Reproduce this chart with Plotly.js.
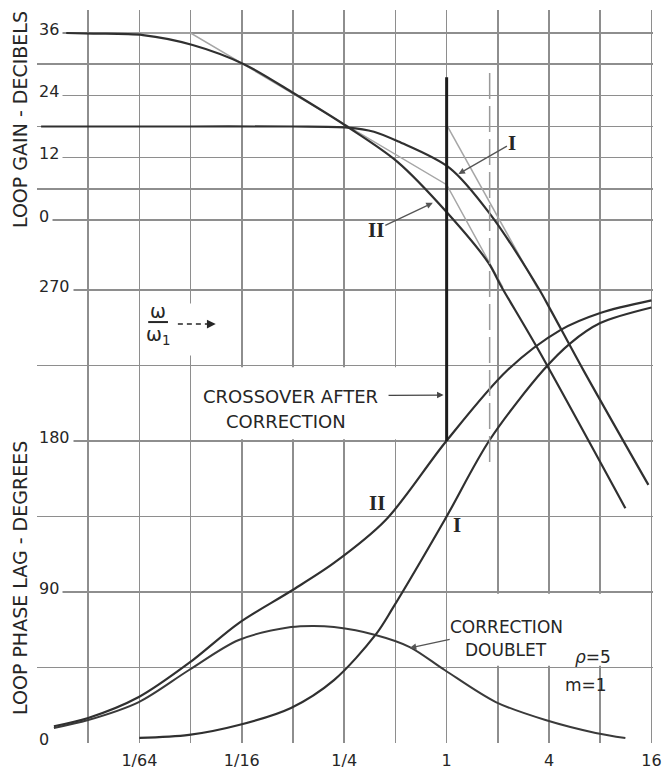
<!DOCTYPE html>
<html>
<head>
<meta charset="utf-8">
<script src="https://cdn.plot.ly/plotly-3.0.1.min.js"></script>
<style>
  html, body { margin: 0; padding: 0; background: #fff; }
  #chart { width: 664px; height: 772px; }
</style>
</head>
<body>
<div id="chart"></div>
<script>
// ---- frequency axis (ω/ω1), one grid line per octave ----
const freqTicks     = [1/128, 1/64, 1/32, 1/16, 1/8, 1/4, 1/2, 1, 2, 4, 8, 16];
const freqTickText  = ['', '1/64', '', '1/16', '', '1/4', '', '1', '', '4', '', '16'];

// ---- gain scale (dB) and phase scale (degrees) ----
const gainTicks     = [0, 6, 12, 18, 24, 30, 36];
const gainTickText  = ['0', '', '12', '', '24', '', '36'];
const phaseTicks    = [0, 45, 90, 135, 180, 225, 270];
const phaseTickText = ['0', '', '90', '', '180', '', '270'];

// ---- loop gain, curve II ----
const gainIIFreq = [0.0058, 0.00837, 0.0164, 0.0321, 0.0643, 0.1276, 0.2624, 0.514, 1.014, 1.765, 2.071, 3.434, 11.24];
const gainIIdB   = [36.0, 35.9, 35.6, 33.7, 30.0, 24.3, 17.9, 11.2, 1.3, -8.3, -12.5, -24.8, -55.5];

// ---- loop gain, curve I ----
const gainIFreq = [0.00413, 0.03125, 0.125, 0.2624, 0.3737, 0.521, 1.043, 1.815, 3.434, 4.084, 6.364, 15.35];
const gainIdB   = [18.0, 18.0, 18.0, 17.8, 17.0, 15.1, 10.0, 1.0, -12.9, -17.3, -28.9, -51.0];

// ---- straight-line asymptotes of the gain curves ----
const asymIIFreq = [0.0058, 0.03125, 1, 2.144];
const asymIIdB   = [36, 36, 6.8, -13.0];
const asymIFreq  = [1, 3.482];
const asymIdB    = [18.3, -13.6];

// ---- loop phase lag, curve II ----
const phaseIIFreq = [0.00491, 0.00781, 0.0155, 0.0306, 0.0600, 0.1216, 0.2176, 0.4383, 0.986, 2.282, 4.659, 8, 16];
const phaseIIDeg  = [10, 14.9, 27.4, 47.7, 71.5, 90.6, 107.3, 132.9, 179.4, 222.3, 246.1, 256.3, 263.8];

// ---- loop phase lag, curve I ----
const phaseIFreq = [0.0156, 0.0306, 0.0600, 0.1216, 0.2176, 0.3815, 0.4830, 0.973, 1.790, 3.706, 5.352, 8, 16];
const phaseIDeg  = [3.0, 4.8, 10.7, 20.9, 37.5, 64.4, 80.5, 132.9, 180.6, 222.3, 238.4, 250.3, 259.6];

// ---- phase of the correction doublet ----
const doubletFreq = [0.00491, 0.00781, 0.0155, 0.0306, 0.0600, 0.1216, 0.165, 0.2176, 0.3815, 0.607, 0.973, 1.945, 3.811, 7.516, 11.24];
const doubletDeg  = [9, 13.7, 24.4, 43.5, 61.4, 69.1, 69.8, 69.1, 64.4, 57.2, 43.5, 24.4, 13.7, 6.0, 3.0];

// ---- crossover markers ----
const crossAfterFreq = 1;      // crossover after correction
const crossAfterTopdB = 27.5;
const crossAfterPhase = 180;
const crossBeforeFreq = 1.79;  // crossover of curve I
const crossBeforeTopdB = 28.3;
const crossBeforePhase = 167;

// ---------------------------------------------------------------
const LOG2 = Math.log10(2);
const xRange = [-8 * LOG2, 4.03 * LOG2];
const phaseRange = [0, 436.9];
const gainRange = [-100.69, 40.43];

// both scales share the same plot height; convert a phase value to the gain scale
function phaseOnGainScale(p) {
  const f = (p - phaseRange[0]) / (phaseRange[1] - phaseRange[0]);
  return gainRange[0] + f * (gainRange[1] - gainRange[0]);
}
const lx = v => Math.log10(v);
// fraction of the plot width at which a frequency sits
const px = v => (lx(v) - xRange[0]) / (xRange[1] - xRange[0]);

const ink = '#262626';
const curveLine = { color: '#303030', width: 2.2, shape: 'spline', smoothing: 0.9 };
const ghostLine = { color: '#a6a6a6', width: 1.5 };
const gridColor = '#8e8e8e';
const letterFont = 'DejaVu Sans, Liberation Sans, sans-serif';
const romanFont = 'Liberation Serif, DejaVu Serif, serif';

function line(x, y, yaxis, style) {
  return { type: 'scatter', mode: 'lines', x: x, y: y, yaxis: yaxis, line: style, hoverinfo: 'skip' };
}

const traces = [
  line(asymIIFreq, asymIIdB, 'y2', ghostLine),
  line(asymIFreq, asymIdB, 'y2', ghostLine),
  line(gainIIFreq, gainIIdB, 'y2', curveLine),
  line(gainIFreq, gainIdB, 'y2', curveLine),
  line(doubletFreq, doubletDeg, 'y', Object.assign({}, curveLine, { color: '#3a3a3a', width: 2 })),
  line(phaseIIFreq, phaseIIDeg, 'y', curveLine),
  line(phaseIFreq, phaseIDeg, 'y', curveLine),
  line([crossAfterFreq, crossAfterFreq],
       [crossAfterTopdB, phaseOnGainScale(crossAfterPhase)], 'y2',
       { color: '#1c1c1c', width: 3 }),
  line([crossBeforeFreq, crossBeforeFreq],
       [crossBeforeTopdB, phaseOnGainScale(crossBeforePhase)], 'y2',
       { color: '#9a9a9a', width: 1.5, dash: '26px,7px' })
];

// white panels that clear the grid behind the lettering
function panel(x0, x1, y0, y1) {
  return { type: 'rect', layer: 'above', xref: 'paper', yref: 'y',
           x0: px(x0), x1: px(x1), y0: y0, y1: y1,
           fillcolor: '#ffffff', line: { width: 0 } };
}
const shapes = [
  panel(0.0319, 0.966, 181, 224),
  panel(0.0234, 0.045, 231, 262),
  panel(1.028, 15.56, 46, 89),
  // fraction bar of ω/ω1
  { type: 'line', layer: 'above', xref: 'paper', yref: 'y', x0: px(0.0176), x1: px(0.0230), y0: 250.9, y1: 250.9,
    line: { color: ink, width: 2 } },
  // dashed lead of the ω/ω1 arrow
  { type: 'line', layer: 'above', xref: 'paper', yref: 'y', x0: px(0.0263), x1: px(0.0395), y0: 249.7, y1: 249.7,
    line: { color: ink, width: 1.5, dash: '5px,4px' } }
];

const annotations = [];

// scale numbers, lettered just inside the left edge
function scaleLabels(vals, texts, yref) {
  vals.forEach((v, i) => {
    if (!texts[i]) return;
    annotations.push({
      xref: 'paper', yref: yref, x: 0, y: v, xanchor: 'left', yanchor: 'middle',
      xshift: -2, yshift: 4, showarrow: false, text: texts[i],
      bgcolor: '#ffffff', borderpad: 3,
      font: { family: letterFont, size: 16, color: ink }
    });
  });
}
scaleLabels(gainTicks, gainTickText, 'y2');
scaleLabels(phaseTicks, phaseTickText, 'y');

// axis titles
annotations.push({
  xref: 'paper', yref: 'y2', x: 0, y: 19.25, xanchor: 'center', yanchor: 'middle', xshift: -17,
  textangle: -90, showarrow: false,
  text: 'LOOP GAIN - DECIBELS', font: { family: letterFont, size: 19, color: ink }
});
annotations.push({
  xref: 'paper', yref: 'y', x: 0, y: 98.4, xanchor: 'center', yanchor: 'middle', xshift: -17,
  textangle: -90, showarrow: false,
  text: 'LOOP PHASE LAG - DEGREES', font: { family: letterFont, size: 19, color: ink }
});

// ω/ω1
annotations.push({ xref: 'x', yref: 'y', x: lx(0.0201), y: 257.5, showarrow: false, text: 'ω',
  font: { family: letterFont, size: 19, color: ink } });
annotations.push({ xref: 'x', yref: 'y', x: lx(0.0201), y: 243.1, showarrow: false, text: 'ω<sub>1</sub>',
  font: { family: letterFont, size: 19, color: ink } });
annotations.push({ xref: 'x', yref: 'y', x: lx(0.0439), y: 249.7, ax: -10, ay: 0, text: '',
  showarrow: true, arrowhead: 2, arrowsize: 1.1, arrowwidth: 1.6, arrowcolor: ink });

// curve labels on the gain plot
annotations.push({ xref: 'x', yref: 'y2', x: lx(1.173), y: 8.85, ax: 54, ay: -31, text: '<b>I</b>',
  showarrow: true, arrowhead: 2, arrowsize: 1, arrowwidth: 1.3, arrowcolor: '#555',
  font: { family: romanFont, size: 21, color: ink } });
annotations.push({ xref: 'x', yref: 'y2', x: lx(0.829), y: 3.3, ax: -57, ay: 27, text: '<b>II</b>',
  showarrow: true, arrowhead: 2, arrowsize: 1, arrowwidth: 1.3, arrowcolor: '#555',
  font: { family: romanFont, size: 21, color: ink } });

// curve labels on the phase plot
annotations.push({ xref: 'x', yref: 'y', x: lx(0.392), y: 143, showarrow: false, text: '<b>II</b>',
  font: { family: romanFont, size: 21, color: ink } });
annotations.push({ xref: 'x', yref: 'y', x: lx(1.157), y: 129.9, showarrow: false, text: '<b>I</b>',
  font: { family: romanFont, size: 21, color: ink } });

// crossover note: first line carries the pointer to the crossover line
annotations.push({ xref: 'x', yref: 'y', x: lx(0.959), y: 207.4, ax: -153, ay: 1,
  showarrow: true, arrowhead: 2, arrowsize: 1, arrowwidth: 1.3, arrowcolor: '#444', startstandoff: 9,
  text: 'CROSSOVER AFTER', font: { family: letterFont, size: 18, color: ink } });
annotations.push({ xref: 'x', yref: 'y', x: lx(0.113), y: 191.8, showarrow: false,
  text: 'CORRECTION', font: { family: letterFont, size: 18, color: ink } });

// correction doublet note: first line carries the pointer to the doublet curve
annotations.push({ xref: 'x', yref: 'y', x: lx(0.607), y: 56.6, ax: 97, ay: -21,
  showarrow: true, arrowhead: 2, arrowsize: 1, arrowwidth: 1.3, arrowcolor: '#555', startstandoff: 4,
  text: 'CORRECTION', font: { family: letterFont, size: 17, color: ink } });
annotations.push({ xref: 'x', yref: 'y', x: lx(2.22), y: 55.7, showarrow: false,
  text: 'DOUBLET', font: { family: letterFont, size: 17, color: ink } });
annotations.push({ xref: 'x', yref: 'y', x: lx(7.21), y: 51.3, showarrow: false,
  text: '<i>ρ</i>=5', font: { family: letterFont, size: 17, color: ink } });
annotations.push({ xref: 'x', yref: 'y', x: lx(6.63), y: 34.6, showarrow: false,
  text: 'm=1', font: { family: letterFont, size: 17, color: ink } });

const layout = {
  width: 664, height: 772,
  margin: { l: 37, r: 11, t: 10, b: 29, pad: 0 },
  paper_bgcolor: '#ffffff', plot_bgcolor: '#ffffff',
  showlegend: false,
  xaxis: {
    type: 'log', range: xRange,
    tickmode: 'array', tickvals: freqTicks, ticktext: freqTickText,
    showgrid: true, gridcolor: gridColor, gridwidth: 1.6,
    zeroline: false, showline: false, ticks: '', ticklabelstandoff: 6,
    tickfont: { family: letterFont, size: 16, color: ink }, fixedrange: true
  },
  yaxis: {
    range: phaseRange, tickmode: 'array', tickvals: phaseTicks, ticktext: phaseTickText,
    showticklabels: false, showgrid: true, gridcolor: gridColor, gridwidth: 1.6,
    zeroline: false, showline: false, ticks: '', fixedrange: true
  },
  yaxis2: {
    range: gainRange, overlaying: 'y', side: 'left',
    tickmode: 'array', tickvals: gainTicks, ticktext: gainTickText,
    showticklabels: false, showgrid: true, gridcolor: gridColor, gridwidth: 1.6,
    zeroline: false, showline: false, ticks: '', fixedrange: true
  },
  shapes: shapes,
  annotations: annotations
};

Plotly.newPlot('chart', traces, layout, { staticPlot: true, displayModeBar: false });
</script>
</body>
</html>
